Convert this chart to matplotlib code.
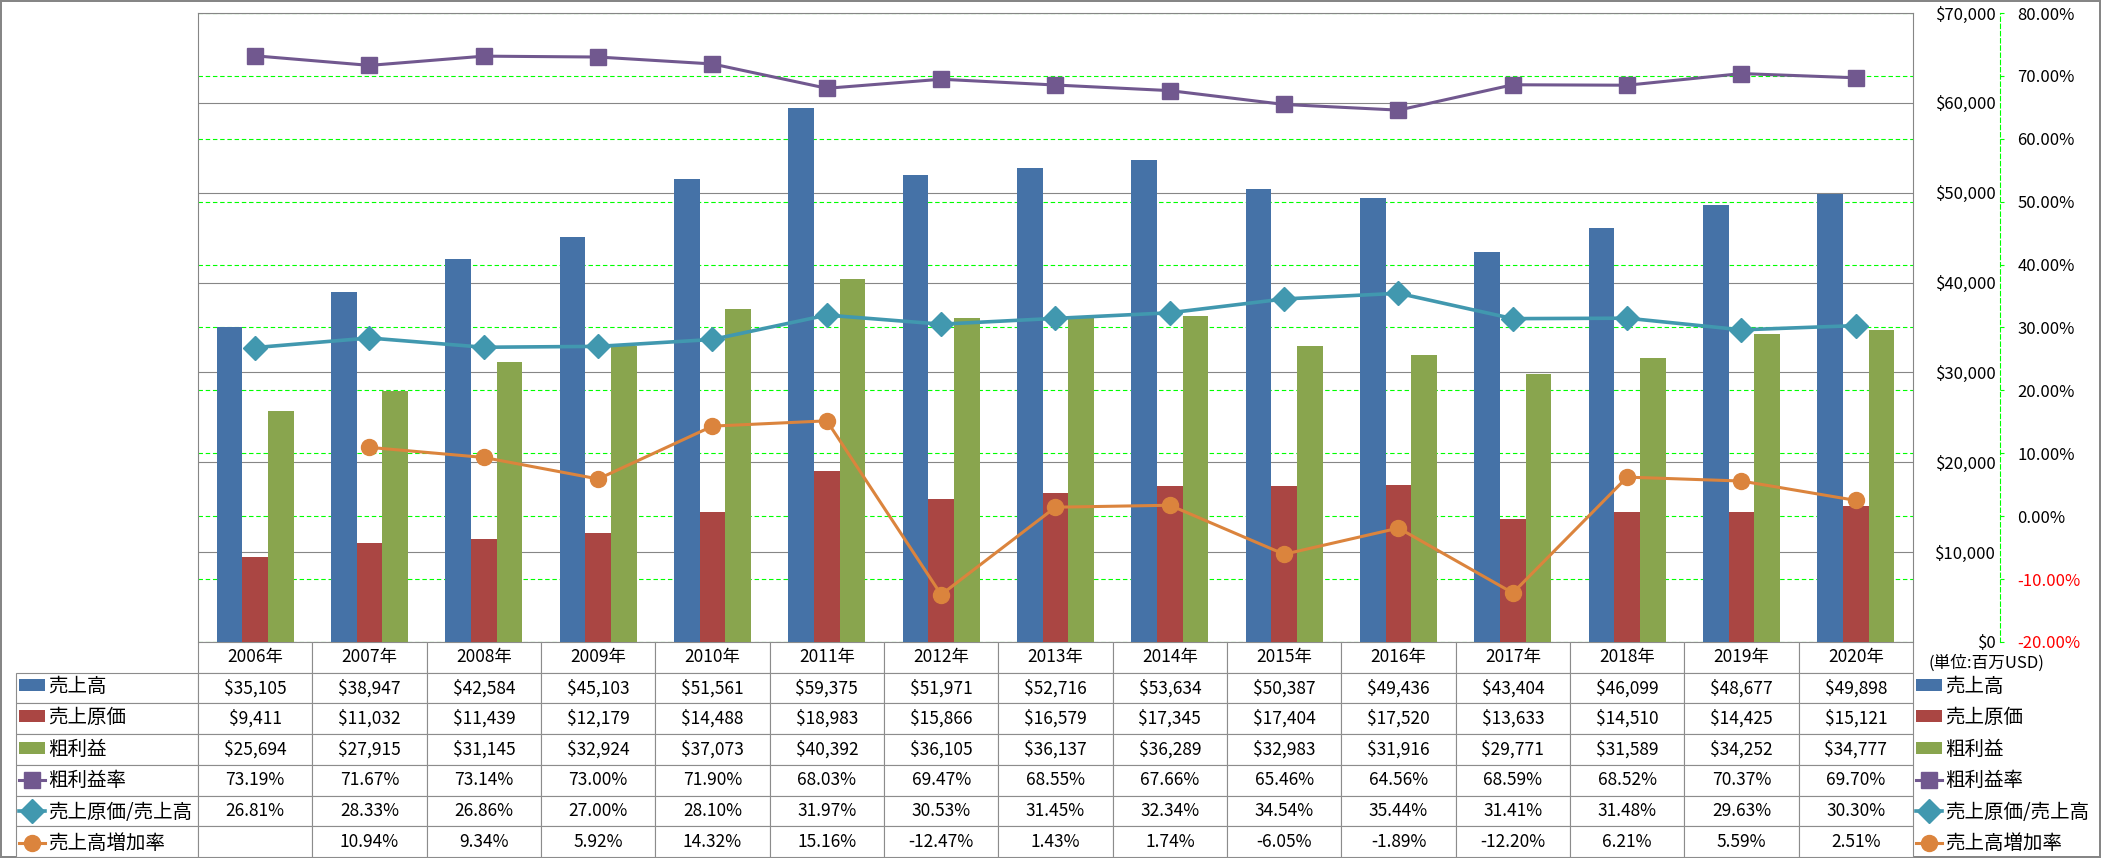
import numpy as np
import matplotlib
matplotlib.use("Agg")
import matplotlib.pyplot as plt
from matplotlib.ticker import FuncFormatter

# データ (単位: 百万USD)
years = ["2006年", "2007年", "2008年", "2009年", "2010年", "2011年", "2012年", "2013年",
         "2014年", "2015年", "2016年", "2017年", "2018年", "2019年", "2020年"]
sales = [35105, 38947, 42584, 45103, 51561, 59375, 51971, 52716,
         53634, 50387, 49436, 43404, 46099, 48677, 49898]
cost = [9411, 11032, 11439, 12179, 14488, 18983, 15866, 16579,
        17345, 17404, 17520, 13633, 14510, 14425, 15121]
gross = [25694, 27915, 31145, 32924, 37073, 40392, 36105, 36137,
         36289, 32983, 31916, 29771, 31589, 34252, 34777]
gross_rate = [73.19, 71.67, 73.14, 73.00, 71.90, 68.03, 69.47, 68.55,
              67.66, 65.46, 64.56, 68.59, 68.52, 70.37, 69.70]
cost_rate = [26.81, 28.33, 26.86, 27.00, 28.10, 31.97, 30.53, 31.45,
             32.34, 34.54, 35.44, 31.41, 31.48, 29.63, 30.30]
growth = [np.nan, 10.94, 9.34, 5.92, 14.32, 15.16, -12.47, 1.43,
          1.74, -6.05, -1.89, -12.20, 6.21, 5.59, 2.51]
labels = ["売上高", "売上原価", "粗利益", "粗利益率", "売上原価/売上高", "売上高増加率"]
usd_ticks = list(range(0, 70001, 10000))
pct_ticks = list(range(-20, 81, 10))

# 設定
plt.rcParams["font.family"] = ["Noto Sans CJK JP", "DejaVu Sans"]
plt.rcParams["axes.unicode_minus"] = False

c_blue, c_red, c_green = "#4572A7", "#AA4643", "#89A54E"
c_purple, c_teal, c_orange = "#71588F", "#4198AF", "#DB843D"
gray = "#868686"
lime = "#00FF00"

W, H = 2101, 858
fig = plt.figure(figsize=(W / 100, H / 100), dpi=100)
fig.patch.set_edgecolor(gray)
fig.patch.set_linewidth(1.5)

# 軸 (パーセント軸 -> 棒グラフ軸 -> 折れ線軸 の順に重ねる)
ax_pct = fig.add_axes([198 / W, 1 - 642 / H, 1715 / W, 629 / H])
ax_bar = ax_pct.twinx()
ax_line = ax_pct.twinx()

x = np.arange(len(years))
bw = 0.224
b1 = ax_bar.bar(x - bw, sales, bw, color=c_blue)
b2 = ax_bar.bar(x, cost, bw, color=c_red)
b3 = ax_bar.bar(x + bw, gross, bw, color=c_green)

l1, = ax_line.plot(x, gross_rate, color=c_purple, lw=2.2, marker="s", ms=12)
l2, = ax_line.plot(x, cost_rate, color=c_teal, lw=2.6, marker="D", ms=12.5)
l3, = ax_line.plot(x, growth, color=c_orange, lw=2.2, marker="o", ms=11.5)

ax_pct.set_xlim(-0.5, len(years) - 0.5)
ax_pct.tick_params(axis="x", bottom=False, labelbottom=False)

# 金額軸
ax_bar.set_ylim(0, 70000)
ax_bar.set_yticks(usd_ticks)
ax_bar.yaxis.set_major_formatter(FuncFormatter(lambda v, _: "${:,.0f}".format(v)))
ax_bar.tick_params(axis="y", length=0, pad=60, labelsize=12)
for lab in ax_bar.get_yticklabels():
    lab.set_ha("right")
ax_bar.grid(axis="y", color=gray, lw=0.8)
ax_bar.set_axisbelow(True)
for s in ["left", "top", "right"]:
    ax_bar.spines[s].set_color(gray)
    ax_bar.spines[s].set_linewidth(0.8)
ax_bar.spines["bottom"].set_visible(False)

# パーセント軸
ax_pct.set_ylim(-20, 80)
ax_pct.yaxis.tick_right()
ax_pct.set_yticks(pct_ticks)
ax_pct.yaxis.set_major_formatter(FuncFormatter(lambda v, _: "{:.2f}%".format(v)))
ax_pct.tick_params(axis="y", direction="out", length=3, color=lime, pad=9, labelsize=12)
ax_pct.grid(axis="y", color=lime, lw=0.8, ls=(0, (4, 2.5)))
for s in ["left", "top", "bottom"]:
    ax_pct.spines[s].set_visible(False)
ax_pct.spines["right"].set_position(("outward", 63))
ax_pct.spines["right"].set_color(lime)
ax_pct.spines["right"].set_linestyle((0, (4, 2.5)))
ax_pct.spines["right"].set_linewidth(0.8)
for tick, v in zip(ax_pct.yaxis.get_major_ticks(), pct_ticks):
    if v < 0:
        tick.label2.set_color("red")

ax_line.set_ylim(-20, 80)
ax_line.set_yticks([])
for s in ax_line.spines.values():
    s.set_visible(False)

# データテーブル (先頭列は凡例用の空欄)
cell_text = [
    ["${:,}".format(v) for v in sales],
    ["${:,}".format(v) for v in cost],
    ["${:,}".format(v) for v in gross],
    ["{:.2f}%".format(v) for v in gross_rate],
    ["{:.2f}%".format(v) for v in cost_rate],
    ["" if np.isnan(v) else "{:.2f}%".format(v) for v in growth],
]
cell_text = [[""] + row for row in cell_text]
lab_w = 182 / 1715
tbl_h = 215 / 629
tbl = ax_bar.table(cellText=cell_text, colLabels=[""] + years, cellLoc="center",
                   colWidths=[lab_w] + [1 / len(years)] * len(years),
                   bbox=[-lab_w, -tbl_h, 1 + lab_w, tbl_h])
tbl.auto_set_font_size(False)
tbl.set_fontsize(12.5)
for (r, c), cell in tbl.get_celld().items():
    cell.set_edgecolor("#8C8C8C")
    cell.set_linewidth(0.8)
    if r == 0 and c == 0:
        cell.set_visible(False)

# 凡例 (テーブル左と右)
handles = [b1[0], b2[0], b3[0], l1, l2, l3]
fs = 14
fs_px = fs * 100 / 72
row_h = 215 / 7
leg_kw = dict(loc="center left", frameon=False, fontsize=fs, borderpad=0, borderaxespad=0,
              labelspacing=0.54, handleheight=0.55, handlelength=26 / fs_px,
              handletextpad=0.15, bbox_transform=fig.transFigure)
y_mid = 1 - (642 + row_h + 857) / 2 / H
fig.legend(handles, labels, bbox_to_anchor=(19 / W, y_mid), **leg_kw)
fig.legend(handles, labels, bbox_to_anchor=(1916 / W, y_mid), **leg_kw)

fig.text(1929 / W, 1 - 663 / H, "(単位:百万USD)", fontsize=12, va="center", ha="left")

fig.savefig("out.png", dpi=100)
